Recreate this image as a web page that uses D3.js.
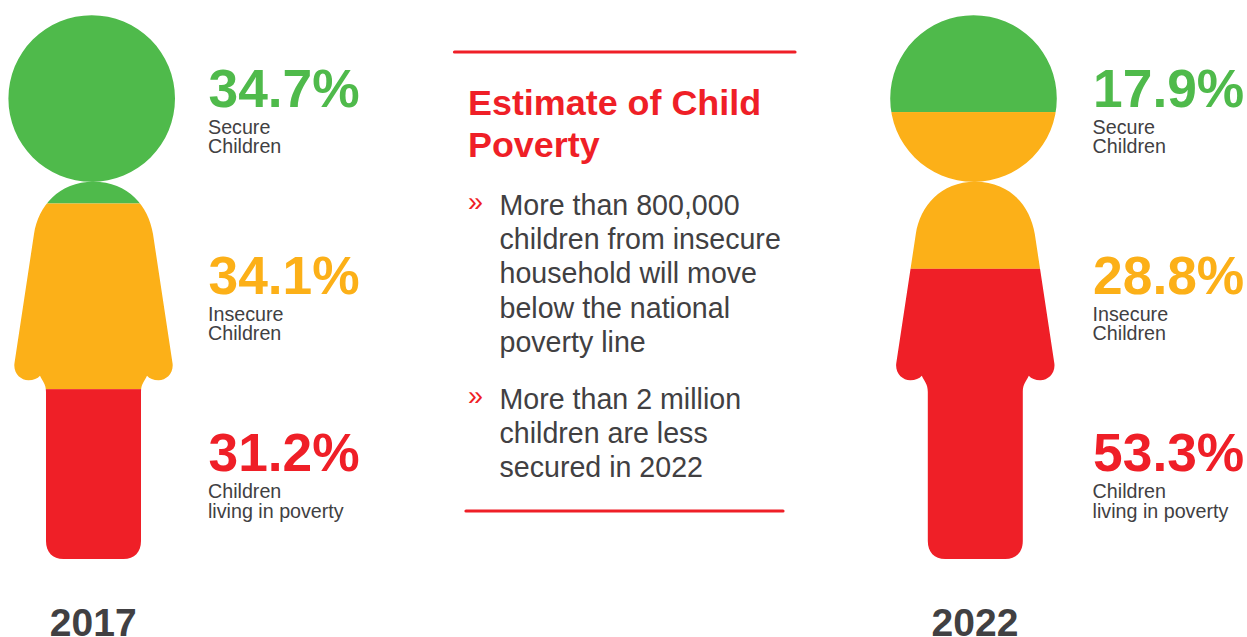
<!DOCTYPE html>
<html>
<head>
<meta charset="utf-8">
<script src="https://cdn.jsdelivr.net/npm/d3@7"></script>
<style>
  html, body { margin: 0; padding: 0; background: #fff; }
  svg { display: block; font-family: "Liberation Sans", Arial, sans-serif; }
</style>
</head>
<body>
<svg id="chart" width="1247" height="637"></svg>
<script>
const years = ["2017", "2022"];
const categories = ["secure", "insecure", "poverty"];
const securePct = [34.7, 17.9];
const insecurePct = [34.1, 28.8];
const povertyPct = [31.2, 53.3];
const categoryLines = [["Secure", "Children"], ["Insecure", "Children"], ["Children", "living in poverty"]];
const categoryColors = ["#4fba4b", "#fcb018", "#ef1f27"];

const panelTitle = ["Estimate of Child", "Poverty"];
const bulletLines = [
  ["More than 800,000", "children from insecure", "household will move", "below the national", "poverty line"],
  ["More than 2 million", "children are less", "secured in 2022"]
];

const svg = d3.select("#chart");
const RED = categoryColors[2];
const INK = "#414042";

// Vertical fill scale: 0–100% runs from the crown to the feet.
const y = d3.scaleLinear().domain([0, 100]).range([14.6, 559]);
// One figure per year, placed by a point scale on the head centre.
const x = d3.scalePoint().domain(years).range([91.7, 973.5]);

// Outline of the child, head centre at local x = 0, in page y.
function figurePath() {
  const p = d3.path();
  const dx = 1.8;                 // the body sits a little right of the head
  p.moveTo(83.3, 98.5);
  p.arc(0, 98.5, 83.3, 0, Math.PI * 2);
  p.closePath();
  p.moveTo(dx, 181.7);
  p.bezierCurveTo(dx - 35, 181.7, dx - 55, 206, dx - 59.5, 234);
  p.lineTo(dx - 79, 363);
  p.bezierCurveTo(dx - 80.5, 373, dx - 73, 380.3, dx - 65, 380.3);
  p.bezierCurveTo(dx - 60, 380.3, dx - 56, 378.5, dx - 53.5, 375.7);
  p.bezierCurveTo(dx - 51, 381, dx - 47.5, 384, dx - 47.5, 392);
  p.lineTo(dx - 47.5, 541);
  p.bezierCurveTo(dx - 47.5, 552, dx - 41, 559, dx - 30, 559);
  p.lineTo(dx + 30, 559);
  p.bezierCurveTo(dx + 41, 559, dx + 47.5, 552, dx + 47.5, 541);
  p.lineTo(dx + 47.5, 392);
  p.bezierCurveTo(dx + 47.5, 384, dx + 51, 381, dx + 53.5, 375.7);
  p.bezierCurveTo(dx + 56, 378.5, dx + 60, 380.3, dx + 65, 380.3);
  p.bezierCurveTo(dx + 73, 380.3, dx + 80.5, 373, dx + 79, 363);
  p.lineTo(dx + 59.5, 234);
  p.bezierCurveTo(dx + 55, 206, dx + 35, 181.7, dx, 181.7);
  p.closePath();
  return p.toString();
}

const rows = years.map((year, i) => ({
  year, secure: securePct[i], insecure: insecurePct[i], poverty: povertyPct[i]
}));
const stacked = d3.stack().keys(categories)(rows);

const labelBaselines = [
  { pct: 107, first: 134, second: 152.5 },
  { pct: 294, first: 321, second: 340 },
  { pct: 471, first: 498, second: 518 }
];
const labelX = d3.scalePoint().domain(years).range([208, 1092.6]);

const defs = svg.append("defs");
rows.forEach((row, i) => {
  defs.append("clipPath").attr("id", "figure-" + row.year)
    .append("path").attr("d", figurePath())
    .attr("transform", `translate(${x(row.year)},0)`);

  const g = svg.append("g");
  g.append("g").attr("clip-path", `url(#figure-${row.year})`)
    .selectAll("rect")
    .data(stacked)
    .join("rect")
    .attr("x", x(row.year) - 90)
    .attr("width", 180)
    .attr("y", s => y(s[i][0]))
    .attr("height", s => y(s[i][1]) - y(s[i][0]))
    .attr("fill", (s, k) => categoryColors[k]);

  categories.forEach((key, k) => {
    g.append("text")
      .attr("x", labelX(row.year) + 0.5).attr("y", labelBaselines[k].pct)
      .attr("font-size", 53.3).attr("font-weight", 700)
      .attr("fill", categoryColors[k])
      .text(d3.format(".1f")(row[key]) + "%");
    g.selectAll(null)
      .data(categoryLines[k])
      .join("text")
      .attr("x", labelX(row.year))
      .attr("y", (d, n) => n === 0 ? labelBaselines[k].first : labelBaselines[k].second)
      .attr("font-size", 19.7).attr("fill", INK)
      .text(d => d);
  });

  g.append("text")
    .attr("x", x(row.year) + 1.5).attr("y", 636)
    .attr("text-anchor", "middle")
    .attr("font-size", 39).attr("font-weight", 700).attr("fill", INK)
    .text(row.year);
});

// Centre panel
const rules = [
  { x1: 454.5, x2: 795, y: 52 },
  { x1: 466, x2: 783, y: 511 }
];
svg.selectAll("line.rule").data(rules).join("line")
  .attr("class", "rule")
  .attr("x1", d => d.x1).attr("x2", d => d.x2)
  .attr("y1", d => d.y).attr("y2", d => d.y)
  .attr("stroke", RED).attr("stroke-width", 3.2).attr("stroke-linecap", "round");

svg.selectAll("text.title").data(panelTitle).join("text")
  .attr("class", "title")
  .attr("x", 468).attr("y", (d, i) => 115 + i * 42)
  .attr("font-size", 35.9).attr("font-weight", 700).attr("fill", RED)
  .text(d => d);

const bulletTops = [215, 409];
bulletLines.forEach((lines, b) => {
  svg.append("text")
    .attr("x", 468).attr("y", bulletTops[b] - 4)
    .attr("font-size", 27).attr("fill", RED)
    .text("»");
  svg.selectAll(null).data(lines).join("text")
    .attr("x", 499.5).attr("y", (d, i) => bulletTops[b] + i * 34.2)
    .attr("font-size", 28.6).attr("fill", INK)
    .text(d => d);
});
</script>
</body>
</html>
